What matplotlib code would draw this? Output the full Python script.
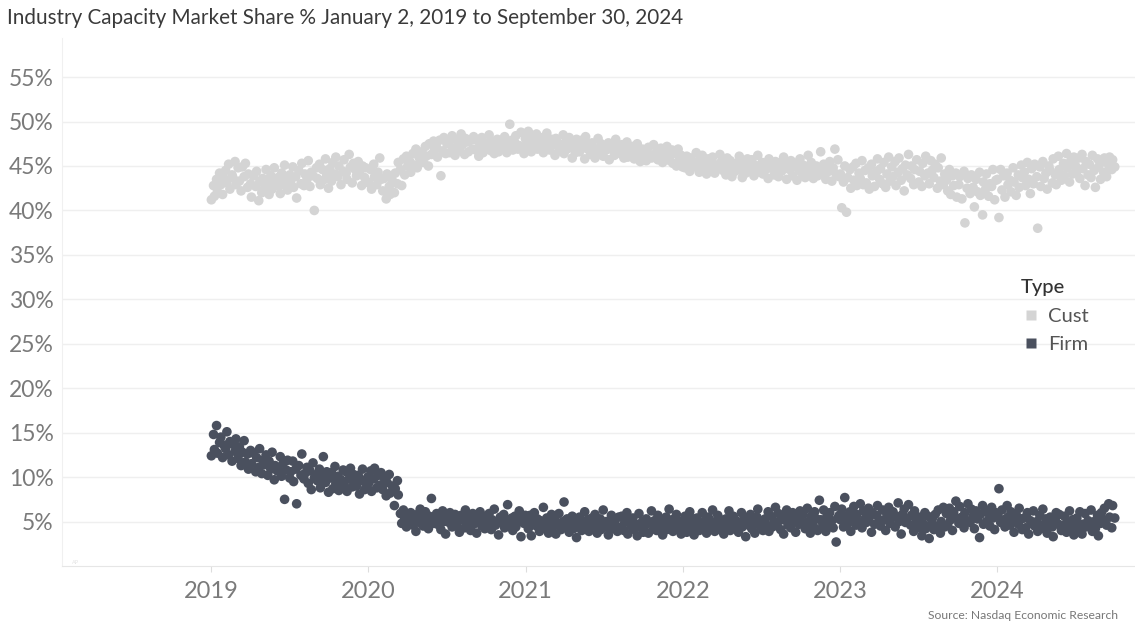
import numpy as np
import pandas as pd
import matplotlib
matplotlib.use("Agg")
import matplotlib.pyplot as plt
from matplotlib.lines import Line2D

plt.rcParams['font.family'] = ['Lato', 'DejaVu Sans']

# values, roughly two per week, in % of industry capacity
cust_2019 = [41.2, 42.8, 41.6, 43.5, 42.1, 44.2, 42.9, 41.8, 43.6,
             44.5, 43.1, 45.2, 42.4, 44.0, 43.7, 45.5, 42.9,
             44.8, 43.3, 42.2, 44.9, 43.8, 45.3, 42.6, 44.1, 43.0,
             41.5, 43.9, 42.7, 44.4, 41.1, 43.2, 42.0, 43.6,
             42.5, 44.6, 43.1, 41.8, 43.9, 42.4, 44.8, 43.3, 42.8,
             43.7, 41.9, 44.2, 42.9, 45.1, 43.4, 42.3, 44.0,
             43.2, 44.9, 42.6, 43.8, 41.4, 44.5, 43.0, 45.3, 42.8,
             44.1, 43.5, 45.6, 42.7, 44.3, 43.9, 40.0, 44.8,
             43.6, 45.2, 42.9, 44.6, 43.4, 45.8, 44.0, 42.5,
             44.7, 43.3, 45.4, 44.1, 46.0, 43.8, 45.0, 42.9, 44.4,
             45.7, 44.2, 43.5, 46.3, 44.9, 43.1, 45.3, 44.6,
             43.9, 45.5, 44.3, 42.8, 45.0, 43.7, 44.8, 43.2]
cust_2020 = [43.1, 44.6, 42.4, 45.2, 43.8, 42.9, 44.3, 45.9, 43.5,
             42.2, 43.6, 41.3, 44.1, 42.7, 41.8, 43.4, 42.0,
             44.2, 43.0, 45.4, 44.6, 42.8, 45.8, 44.0, 46.1, 45.0,
             45.5, 44.3, 46.4, 45.1, 46.9, 44.8, 46.0, 45.7,
             46.6, 45.4, 47.2, 46.1, 45.0, 47.5, 46.3, 47.8, 46.8,
             47.1, 46.0, 47.9, 43.9, 46.7, 48.2, 46.4, 47.5,
             47.6, 46.5, 48.4, 47.0, 46.2, 48.0, 47.3, 46.8, 48.6,
             47.4, 46.3, 48.1, 47.7, 46.6, 47.9, 46.9, 48.3,
             46.8, 47.9, 46.1, 47.4, 48.2, 46.5, 47.6, 46.9,
             47.3, 48.5, 46.7, 47.8, 46.4, 47.1, 48.0, 46.6, 47.5,
             46.9, 47.7, 48.3, 46.5, 47.2, 49.7, 47.9, 46.8,
             47.6, 48.4, 46.9, 47.3, 48.8, 47.0, 46.4, 48.1]
cust_2021 = [47.8, 48.9, 47.1, 46.6, 48.3, 47.5, 48.6, 46.9, 47.7,
             48.2, 47.0, 46.5, 47.9, 48.7, 47.3, 46.8, 48.0,
             47.4, 46.2, 48.1, 47.6, 46.7, 47.2, 48.5, 46.4, 47.8,
             46.9, 48.2, 47.3, 45.9, 47.7, 46.5, 48.0, 47.1,
             46.6, 47.9, 47.2, 45.8, 48.3, 46.9, 47.4, 46.3, 47.6,
             47.0, 45.9, 46.7, 48.1, 46.4, 47.5, 46.1, 47.2,
             46.8, 47.6, 45.7, 46.9, 47.3, 46.2, 48.0, 46.5, 47.1,
             46.4, 47.4, 45.9, 46.8, 47.7, 46.0, 47.0, 46.3,
             47.2, 45.8, 46.6, 47.5, 46.1, 45.5, 46.9, 46.3,
             46.7, 45.6, 47.1, 46.2, 45.9, 47.4, 46.0, 46.6, 45.7,
             46.3, 47.0, 45.4, 46.5, 45.9, 47.2, 46.1, 45.6,
             46.8, 45.3, 46.4, 45.0, 46.9, 45.7, 46.2, 44.9]
cust_2022 = [45.6, 44.8, 46.1, 45.2, 44.4, 45.9, 44.9, 45.4, 46.5,
             45.0, 44.3, 45.7, 46.2, 44.7, 45.3, 44.1, 45.8,
             44.6, 45.5, 46.0, 44.2, 45.1, 44.8, 46.3, 45.4, 44.5,
             45.2, 44.0, 45.9, 44.7, 45.6, 43.8, 45.0, 44.4,
             45.3, 44.6, 46.1, 44.9, 43.7, 45.5, 44.2, 45.8, 44.8,
             44.5, 45.7, 43.9, 45.1, 44.3, 46.2, 44.7, 45.4,
             44.1, 45.3, 44.6, 43.6, 45.8, 44.8, 45.2, 44.0, 45.5,
             44.9, 43.8, 45.4, 44.4, 46.0, 44.7, 43.5, 45.1,
             44.6, 45.6, 43.9, 44.9, 45.3, 43.4, 44.5, 45.8,
             44.2, 45.1, 43.7, 44.8, 46.2, 44.0, 45.4, 43.6, 44.7,
             45.0, 43.9, 44.6, 46.6, 44.3, 45.2, 43.5, 44.9,
             44.4, 45.5, 43.3, 44.8, 46.9, 44.1, 45.7, 43.8]
cust_2023 = [44.1, 40.3, 43.2, 45.0, 39.8, 43.7, 44.6, 42.5, 44.9,
             43.4, 45.3, 42.8, 44.2, 43.6, 45.6, 42.9, 44.5,
             43.1, 44.8, 42.4, 45.2, 43.9, 42.7, 44.4, 45.8, 43.5,
             44.7, 43.0, 45.4, 42.6, 44.1, 46.0, 43.3, 44.9,
             43.8, 45.5, 42.8, 44.3, 45.9, 43.4, 44.7, 42.2, 45.1,
             44.0, 46.3, 43.6, 45.0, 42.9, 44.6, 45.7, 43.2,
             44.4, 42.7, 45.3, 43.9, 46.1, 44.2, 43.0, 45.6, 44.5,
             43.7, 45.2, 42.5, 44.8, 43.3, 45.9, 42.9, 44.1,
             43.4, 42.2, 44.6, 41.8, 43.9, 42.8, 44.2, 41.5,
             42.9, 43.8, 41.3, 44.4, 38.6, 42.5, 43.6, 41.9, 44.0,
             42.6, 40.4, 43.5, 42.1, 44.3, 41.7, 39.5, 43.2,
             42.4, 44.1, 41.6, 43.0, 42.7, 44.6, 41.2, 43.4]
cust_2024 = [43.5, 39.2, 44.6, 42.3, 43.9, 41.5, 44.2, 42.9, 43.4,
             42.1, 44.8, 43.2, 41.7, 44.0, 42.6, 45.1, 43.7,
             44.3, 42.8, 45.4, 43.5, 41.9, 44.7, 43.0, 45.2,
             43.8, 38.0, 44.9, 42.7, 45.5, 43.6, 44.2, 42.4, 45.0,
             44.5, 43.1, 45.8, 44.0, 42.9, 46.1, 44.6, 43.4,
             45.3, 43.9, 46.4, 44.8, 43.2, 45.6, 44.1, 46.0, 45.0,
             44.4, 45.9, 43.6, 46.3, 44.7, 42.8, 45.5, 44.0,
             45.2, 43.7, 46.2, 44.5, 42.6, 45.8, 44.9, 43.5, 45.4,
             44.3, 45.9, 43.8, 45.1, 46.0, 44.6, 45.7, 44.9]

firm_2019 = [12.4, 14.8, 13.1, 15.8, 12.7, 13.9, 14.5, 12.2, 13.6,
             13.2, 15.1, 12.5, 14.0, 11.8, 13.7, 12.9, 14.3,
             12.1, 13.4, 11.3, 12.8, 14.1, 11.7, 12.6, 10.9, 13.0,
             11.5, 12.7, 10.6, 12.2, 11.1, 13.2, 10.4, 11.9,
             11.4, 12.5, 10.2, 11.8, 10.9, 12.8, 9.7, 11.3, 10.7,
             11.0, 12.3, 10.1, 11.6, 7.5, 10.8, 11.9, 9.9,
             10.6, 11.8, 9.5, 10.9, 7.0, 11.3, 10.2, 12.6, 9.8,
             10.4, 11.1, 9.3, 10.7, 8.6, 11.6, 9.9, 10.3,
             9.6, 10.9, 8.8, 10.2, 12.3, 9.4, 10.6, 8.3,
             9.9, 10.5, 8.7, 11.2, 9.3, 10.1, 8.5, 9.7, 10.8,
             9.2, 10.6, 8.4, 9.8, 11.0, 8.9, 10.3, 9.5,
             9.0, 10.2, 8.1, 9.6, 10.9, 8.6, 9.4, 10.0]
firm_2020 = [9.3, 10.7, 8.4, 9.8, 11.0, 8.8, 10.2, 9.1, 10.5,
             8.6, 9.9, 7.9, 9.4, 10.3, 8.2, 9.0, 6.8,
             8.7, 9.6, 8.0, 5.9, 4.8, 6.3, 5.4, 4.4, 5.7,
             5.1, 6.0, 4.6, 5.5, 3.9, 5.8, 4.9, 6.4,
             5.3, 4.5, 6.1, 5.0, 4.2, 5.6, 7.6, 4.8, 5.2,
             5.9, 4.7, 5.4, 4.1, 6.2, 5.0, 3.6, 5.5,
             4.9, 6.0, 4.4, 5.3, 5.8, 4.6, 5.1, 3.8, 5.7,
             5.2, 4.3, 6.3, 4.9, 5.5, 4.0, 5.9, 4.7,
             5.4, 3.7, 5.0, 6.1, 4.5, 5.6, 4.2, 5.3,
             4.8, 5.9, 4.1, 5.2, 6.4, 4.6, 5.0, 3.5, 5.5,
             4.9, 5.8, 4.3, 5.1, 6.9, 4.7, 5.4, 4.0,
             5.6, 4.4, 5.0, 6.2, 3.3, 5.3, 4.8, 5.7]
firm_2021 = [5.0, 4.2, 5.7, 3.4, 4.8, 6.0, 4.5, 5.3, 3.9,
             5.1, 4.6, 6.6, 4.3, 5.4, 3.7, 4.9, 5.8,
             4.4, 5.2, 3.6, 4.7, 5.9, 4.1, 5.0, 7.2, 4.6,
             5.3, 3.8, 4.9, 5.6, 4.2, 5.1, 3.2, 4.8,
             5.5, 4.0, 4.7, 6.1, 4.3, 5.2, 3.9, 4.6, 5.4,
             4.5, 5.8, 3.7, 4.9, 5.3, 4.1, 6.3, 4.4,
             5.0, 3.5, 4.8, 5.7, 4.2, 5.1, 4.6, 3.9, 5.5,
             4.3, 5.6, 4.0, 4.9, 6.0, 3.6, 5.2, 4.5,
             5.4, 4.1, 4.7, 3.4, 5.9, 4.4, 5.0, 3.8,
             4.6, 5.3, 3.7, 4.9, 6.2, 4.2, 5.1, 4.0, 5.7,
             4.4, 5.0, 3.5, 4.8, 5.5, 4.1, 6.4, 4.7,
             5.2, 3.9, 4.6, 5.8, 4.3, 5.0, 3.6, 4.9]
firm_2022 = [4.5, 5.6, 3.8, 4.9, 6.1, 4.2, 5.3, 3.5, 4.8,
             5.4, 4.0, 4.7, 6.0, 4.4, 5.1, 3.7, 5.5,
             4.3, 5.0, 6.3, 3.9, 4.8, 5.7, 4.1, 5.2, 4.6,
             3.6, 5.3, 4.5, 6.2, 4.0, 4.9, 5.6, 4.3,
             5.1, 3.8, 4.7, 6.0, 4.4, 5.4, 3.3, 5.0, 4.6,
             5.8, 4.2, 4.9, 3.7, 5.5, 6.4, 4.5, 5.1,
             4.0, 5.3, 4.7, 6.1, 3.9, 5.6, 4.4, 5.0, 6.6,
             4.8, 5.9, 4.1, 5.2, 3.6, 5.7, 6.3, 4.6,
             5.4, 4.3, 6.0, 5.1, 3.8, 5.5, 4.7, 6.2,
             4.9, 5.8, 4.2, 6.5, 5.0, 3.7, 5.6, 4.5, 6.1,
             5.3, 4.0, 7.4, 5.2, 4.6, 6.3, 3.9, 5.5,
             4.8, 6.0, 5.1, 4.3, 6.7, 2.7, 5.4, 5.7]
firm_2023 = [5.2, 6.4, 4.4, 7.7, 5.6, 4.8, 6.1, 3.9, 5.4,
             6.7, 4.6, 5.8, 5.0, 7.0, 4.3, 6.2, 5.3,
             4.9, 6.5, 5.5, 3.8, 6.0, 4.7, 5.7, 6.8, 5.1,
             4.5, 6.3, 5.2, 4.0, 5.9, 6.6, 4.8, 5.4,
             6.1, 4.4, 5.6, 7.1, 5.0, 3.6, 5.8, 6.4, 4.9,
             5.3, 6.9, 4.6, 5.7, 3.9, 6.2, 5.1, 4.3,
             5.5, 3.4, 4.8, 6.0, 4.2, 5.6, 3.1, 4.7, 5.3,
             4.1, 5.8, 4.5, 6.3, 3.7, 5.0, 6.6, 4.4,
             5.9, 4.6, 6.5, 5.2, 4.0, 6.1, 7.3, 5.4,
             4.8, 6.7, 5.5, 4.3, 6.0, 5.1, 7.0, 4.9, 6.4,
             5.6, 4.2, 6.2, 5.3, 3.2, 5.8, 6.8, 4.7,
             6.3, 5.0, 5.9, 4.5, 6.6, 5.4, 4.1, 6.0]
firm_2024 = [5.7, 8.7, 4.9, 6.3, 5.2, 4.4, 6.8, 5.5, 4.6,
             6.1, 5.0, 3.8, 5.8, 4.7, 6.5, 5.3, 4.1,
             5.4, 4.3, 6.0, 3.6, 5.1, 4.8, 6.2, 4.5,
             5.0, 3.9, 5.7, 4.6, 6.4, 4.2, 5.3, 3.7, 4.9,
             5.5, 4.4, 3.3, 5.1, 6.0, 4.7, 5.8, 4.0,
             4.6, 5.6, 3.8, 4.9, 6.2, 4.3, 5.2, 3.5, 4.8,
             5.4, 4.1, 6.1, 3.6, 4.7, 5.9, 4.4, 5.1,
             4.5, 6.3, 3.9, 5.0, 4.2, 5.7, 3.4, 4.8, 6.0,
             5.2, 6.5, 4.6, 7.0, 5.5, 4.3, 6.8, 5.4]

years = [2019, 2020, 2021, 2022, 2023, 2024]
cust_by_year = [cust_2019, cust_2020, cust_2021, cust_2022, cust_2023, cust_2024]
firm_by_year = [firm_2019, firm_2020, firm_2021, firm_2022, firm_2023, firm_2024]
type_names = ['Cust', 'Firm']
type_colors = ['#d4d4d4', '#4a505e']
y_ticks = [5, 10, 15, 20, 25, 30, 35, 40, 45, 50, 55]


def spread(values, year):
    # lay a year's readings out evenly over its trading days
    end = '2024-09-30' if year == 2024 else f'{year}-12-31'
    days = pd.bdate_range(f'{year}-01-02', end)
    idx = np.linspace(0, len(days) - 1, len(values)).round().astype(int)
    return days[idx]


fig = plt.figure(figsize=(11.35, 6.28), dpi=100)
ax = fig.add_axes([0.0546, 0.0987, 0.9454, 0.8408])

for name, color, series in zip(type_names, type_colors, [cust_by_year, firm_by_year]):
    for yr, vals in zip(years, series):
        ax.scatter(spread(vals, yr), vals, s=48, color=color, edgecolors='none', zorder=3)

ax.set_xlim(pd.Timestamp('2018-01-20'), pd.Timestamp('2024-11-16'))
ax.set_ylim(0, 59.4)
ax.set_yticks(y_ticks)
ax.set_yticklabels([f'{v}%' for v in y_ticks])
ax.set_xticks([pd.Timestamp(f'{y}-01-01') for y in years])
ax.set_xticklabels([str(y) for y in years])

ax.grid(axis='y', color='#efefef', linewidth=1)
ax.set_axisbelow(True)
for side in ['top', 'right']:
    ax.spines[side].set_visible(False)
ax.spines['left'].set_color('#f0f0f0')
ax.spines['bottom'].set_color('#e6e6e6')
ax.tick_params(axis='y', length=0, labelsize=16.5, labelcolor='#7a7a7a', pad=6)
ax.tick_params(axis='x', length=4, color='#dddddd', labelsize=17, labelcolor='#7a7a7a', pad=7)

handles = [Line2D([], [], marker='s', linestyle='none', markersize=7.5,
                  markerfacecolor=c, markeredgecolor='none') for c in type_colors]
leg = ax.legend(handles, type_names, title='Type', loc='upper left',
                bbox_to_anchor=(0.877, 0.577), frameon=False, fontsize=14.5,
                title_fontsize=14.5, handletextpad=0.35, handlelength=1.0,
                labelspacing=0.55)
leg._legend_box.align = 'left'
leg.get_title().set_color('#333333')
leg.get_title().set_fontweight('medium')
for t in leg.get_texts():
    t.set_color('#555555')

fig.text(0.006, 0.972, 'Industry Capacity Market Share % January 2, 2019 to September 30, 2024',
         fontsize=14.9, color='#3a3a3a', va='center', ha='left')
fig.text(0.985, 0.011, 'Source: Nasdaq Economic Research', fontsize=8.7,
         color='#777777', ha='right', va='bottom')
ax.text(0.009, 0.004, 'AP', transform=ax.transAxes, fontsize=4, color='#e4e4e4')

fig.savefig('out.png', dpi=100)
